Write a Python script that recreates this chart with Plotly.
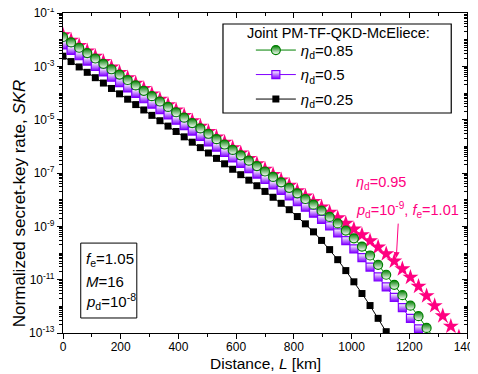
import plotly.graph_objects as go

# ---------------- data ----------------
distance_km = [0, 28, 56, 84, 112, 140, 168, 196, 224, 252, 280, 308, 336, 364, 392,
               420, 448, 476, 504, 532, 560, 588, 616, 644, 672, 700, 728, 756, 784,
               812, 840, 868, 896, 924, 952, 980, 1008, 1036, 1064, 1092, 1120, 1148,
               1176, 1204, 1232, 1260, 1288, 1316, 1344, 1372]

skr_eta085 = [1.26e-2, 7.91e-3, 4.98e-3, 3.13e-3, 1.97e-3, 1.24e-3, 7.76e-4, 4.89e-4,
              3.07e-4, 1.93e-4, 1.21e-4, 7.62e-5, 4.80e-5, 3.01e-5, 1.90e-5, 1.19e-5,
              7.48e-6, 4.71e-6, 2.96e-6, 1.86e-6, 1.17e-6, 7.35e-7, 4.62e-7, 2.90e-7,
              1.82e-7, 1.14e-7, 7.14e-8, 4.48e-8, 2.79e-8, 1.73e-8, 1.06e-8, 6.47e-9,
              3.88e-9, 2.26e-9, 1.28e-9, 6.93e-10, 3.56e-10, 1.74e-10, 8.07e-11,
              3.59e-11, 1.53e-11, 6.38e-12, 2.62e-12, 1.06e-12, 4.26e-13, 1.55e-13,
              6.0e-14]

skr_eta05 = [6.31e-3, 3.96e-3, 2.49e-3, 1.57e-3, 9.86e-4, 6.19e-4, 3.89e-4, 2.45e-4,
             1.54e-4, 9.68e-5, 6.08e-5, 3.82e-5, 2.40e-5, 1.51e-5, 9.51e-6, 5.97e-6,
             3.75e-6, 2.36e-6, 1.48e-6, 9.33e-7, 5.86e-7, 3.68e-7, 2.31e-7, 1.45e-7,
             9.12e-8, 5.70e-8, 3.56e-8, 2.22e-8, 1.38e-8, 8.51e-9, 5.19e-9, 3.11e-9,
             1.82e-9, 1.03e-9, 5.64e-10, 2.91e-10, 1.43e-10, 6.67e-11, 2.97e-11,
             1.28e-11, 5.33e-12, 2.18e-12, 8.87e-13, 3.55e-13, 1.42e-13, 5.64e-14]

skr_eta025 = [2.40e-3, 1.51e-3, 9.48e-4, 5.96e-4, 3.75e-4, 2.36e-4, 1.48e-4, 9.31e-5,
              5.85e-5, 3.68e-5, 2.31e-5, 1.45e-5, 9.14e-6, 5.74e-6, 3.61e-6, 2.27e-6,
              1.43e-6, 8.95e-7, 5.62e-7, 3.53e-7, 2.21e-7, 1.38e-7, 8.65e-8, 5.38e-8,
              3.33e-8, 2.04e-8, 1.23e-8, 7.31e-9, 4.21e-9, 2.33e-9, 1.24e-9, 6.21e-10,
              2.96e-10, 1.34e-10, 5.62e-11, 2.19e-11, 8.32e-12, 3.02e-12, 1.07e-12,
              3.55e-13, 1.12e-13, 3.55e-14]

skr_eta095 = [1.51e-2, 9.51e-3, 5.98e-3, 3.76e-3, 2.37e-3, 1.49e-3, 9.33e-4, 5.87e-4,
              3.69e-4, 2.32e-4, 1.46e-4, 9.16e-5, 5.77e-5, 3.62e-5, 2.28e-5, 1.43e-5,
              8.99e-6, 5.66e-6, 3.56e-6, 2.24e-6, 1.41e-6, 8.83e-7, 5.56e-7, 3.49e-7,
              2.20e-7, 1.38e-7, 8.67e-8, 5.46e-8, 3.42e-8, 2.15e-8, 1.35e-8, 8.45e-9,
              5.31e-9, 3.31e-9, 2.07e-9, 1.28e-9, 7.85e-10, 4.78e-10, 2.84e-10,
              1.65e-10, 9.25e-11, 4.95e-11, 2.53e-11, 1.22e-11, 5.62e-12, 2.47e-12,
              1.05e-12, 4.38e-13, 1.78e-13, 7.21e-14]

x_tick_vals = [0, 200, 400, 600, 800, 1000, 1200, 1400]
y_tick_vals = [1e-1, 1e-3, 1e-5, 1e-7, 1e-9, 1e-11, 1e-13]
y_tick_text = ["10<sup>-1</sup>", "10<sup>-3</sup>", "10<sup>-5</sup>", "10<sup>-7</sup>",
               "10<sup>-9</sup>", "10<sup>-11</sup>", "10<sup>-13</sup>"]

x_title = "Distance, <i>L</i> [km]"
y_title = "Normalized secret-key rate, <i>SKR</i>"
legend_title = "Joint PM-TF-QKD-McEliece:"
legend_names = ["<i>η</i><sub>d</sub>=0.85", "<i>η</i><sub>d</sub>=0.5",
                "<i>η</i><sub>d</sub>=0.25"]
param_lines = ["<i>f</i><sub>e</sub>=1.05", "<i>M</i>=16",
               "<i>p</i><sub>d</sub>=10<sup>-8</sup>"]
pink_lines = ["<i>η</i><sub>d</sub>=0.95",
              "<i>p</i><sub>d</sub>=10<sup>-9</sup>, <i>f</i><sub>e</sub>=1.01"]

# ---------------- styling ----------------
FONT = "Liberation Sans, Arial, sans-serif"
GREEN = "#008000"
PURPLE = "#8000FF"
PINK = "#FF0080"
BLACK = "#000000"

fig = go.Figure()

fig.add_trace(go.Scatter(
    x=distance_km[:len(skr_eta095)], y=skr_eta095, mode="lines+markers",
    line=dict(color=PINK, width=1, dash="dot"),
    marker=dict(symbol="star", size=12, color=PINK, line=dict(width=0)),
    showlegend=False, hoverinfo="skip"))

fig.add_trace(go.Scatter(
    x=distance_km[:len(skr_eta025)], y=skr_eta025, mode="lines+markers",
    name=legend_names[2], legendrank=3, legendgroup="c",
    line=dict(color=BLACK, width=1),
    marker=dict(symbol="square", size=7, color=BLACK, line=dict(width=0))))

fig.add_trace(go.Scatter(
    x=distance_km[:len(skr_eta05)], y=skr_eta05, mode="lines+markers",
    name=legend_names[1], legendrank=2, legendgroup="b",
    line=dict(color=PURPLE, width=1),
    marker=dict(symbol="square", size=8, color="white",
                gradient=dict(type="vertical", color=PURPLE),
                line=dict(color=PURPLE, width=1.2))))

fig.add_trace(go.Scatter(
    x=distance_km[:len(skr_eta085)], y=skr_eta085, mode="lines+markers",
    name=legend_names[0], legendrank=1, legendgroup="a",
    line=dict(color=GREEN, width=1),
    marker=dict(symbol="circle", size=9, color=GREEN,
                gradient=dict(type="vertical", color="white"),
                line=dict(color=GREEN, width=1.2))))

# empty trace so the mirrored tick axes (top/right) get drawn
fig.add_trace(go.Scatter(x=[None], y=[None], xaxis="x2", yaxis="y2",
                         showlegend=False, hoverinfo="skip"))

axis_common = dict(showgrid=False, zeroline=False, showline=True, automargin=False,
                   linecolor="black", linewidth=1.2, tickcolor="black",
                   tickwidth=1.2, ticklabeloverflow="allow")

# the page body adds an 8 px margin, so the figure is sized to fit the window
fig.update_layout(
    width=470, height=366,
    margin=dict(l=55, r=11, t=5, b=41),
    paper_bgcolor="white", plot_bgcolor="white",
    font=dict(family=FONT, size=12, color="black"),
    xaxis=dict(range=[0, 1400], tickvals=x_tick_vals, ticks="outside", ticklen=5,
               minor=dict(dtick=100, ticks="outside", ticklen=3, tickcolor="black"),
               tickfont=dict(size=12), ticklabelstandoff=-3,
               **axis_common),
    yaxis=dict(type="log", range=[-13, -1], tickvals=y_tick_vals, ticktext=y_tick_text,
               ticks="outside", ticklen=5,
               minor=dict(dtick="D1", ticks="outside", ticklen=2.5, tickcolor="black"),
               tickfont=dict(size=12),
               **axis_common),
    xaxis2=dict(range=[0, 1400], overlaying="x", side="top", anchor="y2",
                tickvals=x_tick_vals, ticks="inside", ticklen=5, showticklabels=False,
                minor=dict(dtick=100, ticks="inside", ticklen=3, tickcolor="black"),
                **axis_common),
    yaxis2=dict(type="log", range=[-13, -1], overlaying="y", side="right", anchor="x2",
                tickvals=y_tick_vals, ticks="inside", ticklen=5, showticklabels=False,
                minor=dict(dtick="D1", ticks="inside", ticklen=2.5, tickcolor="black"),
                **axis_common),
    legend=dict(x=0.465, y=0.935, xanchor="left", yanchor="top",
                borderwidth=0, bgcolor="rgba(0,0,0,0)",
                font=dict(size=15), itemwidth=40, tracegroupgap=2),
    showlegend=True,
)

# axis titles
fig.add_annotation(xref="paper", yref="paper", x=0.5, y=-0.094,
                   xanchor="center", yanchor="middle", text=x_title,
                   showarrow=False, font=dict(size=15.5, color="black"))
fig.add_annotation(xref="paper", yref="paper", x=-0.107, y=0.405,
                   xanchor="center", yanchor="middle", text=y_title, textangle=-90,
                   showarrow=False, font=dict(size=17, color="black"))

# legend frame and title
fig.add_shape(type="rect", xref="paper", yref="paper", x0=0.396, x1=0.961,
              y0=0.6875, y1=0.9656, line=dict(color="black", width=1.2),
              fillcolor="white", layer="below")
fig.add_annotation(
    xref="paper", yref="paper", x=0.45, y=0.9375, xanchor="left", yanchor="middle",
    text=legend_title, showarrow=False, font=dict(size=14.5, color="black"))

# parameter box (bottom left)
fig.add_shape(type="rect", xref="paper", yref="paper", x0=0.0439, x1=0.1827,
              y0=0.0469, y1=0.281, line=dict(color="black", width=1),
              fillcolor="white", layer="above")
for line_text, ypos in zip(param_lines, [0.231, 0.1625, 0.10]):
    fig.add_annotation(xref="paper", yref="paper", x=0.051, y=ypos,
                       xanchor="left", yanchor="middle", text=line_text,
                       showarrow=False, font=dict(size=15, color="black"))

# pink series label and arrow
for line_text, ypos in zip(pink_lines, [0.469, 0.384]):
    fig.add_annotation(xref="paper", yref="paper", x=0.72, y=ypos,
                       xanchor="left", yanchor="middle", text=line_text,
                       showarrow=False, font=dict(size=14.5, color=PINK))

fig.add_annotation(
    xref="paper", yref="paper", x=0.825, y=0.234, text="", showarrow=True,
    ax=2, ay=-36, arrowcolor=PINK, arrowwidth=1, arrowhead=2, arrowsize=1.2)

fig.write_html("out.html")
